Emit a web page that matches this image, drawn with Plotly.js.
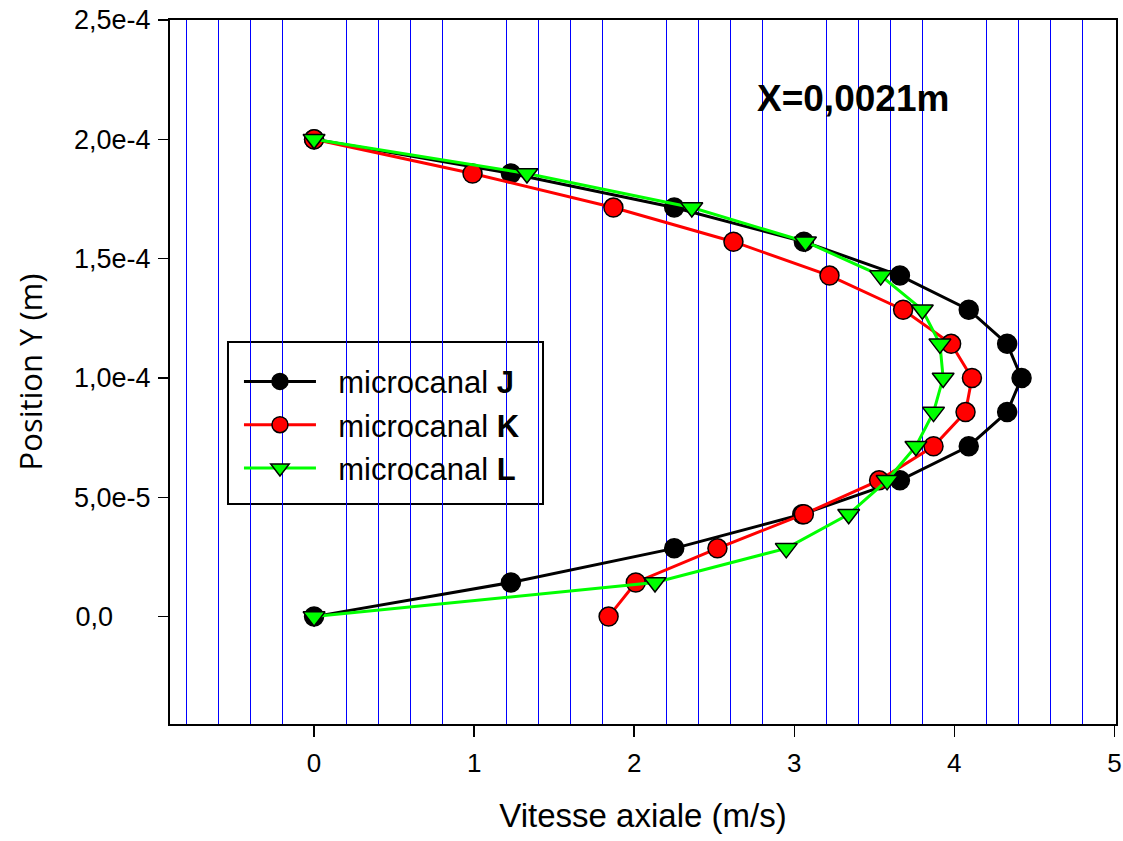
<!DOCTYPE html>
<html>
<head>
<meta charset="utf-8">
<script src="https://cdn.plot.ly/plotly-3.0.1.min.js"></script>
<style>html,body{margin:0;padding:0;background:#fff;}#chart{width:1123px;height:841px;}</style>
</head>
<body>
<div id="chart"></div>
<script>
// Position Y (m) of the measurement points
const positionY = [0, 1.43e-5, 2.86e-5, 4.29e-5, 5.71e-5, 7.14e-5, 8.57e-5, 1.0e-4,
                   1.143e-4, 1.286e-4, 1.429e-4, 1.571e-4, 1.714e-4, 1.857e-4, 2.0e-4];
// Vitesse axiale (m/s)
const vitesseJ = [0, 1.23, 2.25, 3.05, 3.66, 4.09, 4.33, 4.42, 4.33, 4.09, 3.66, 3.06, 2.25, 1.23, 0];
const vitesseK = [1.84, 2.01, 2.52, 3.06, 3.53, 3.87, 4.07, 4.11, 3.98, 3.68, 3.22, 2.62, 1.87, 0.99, 0];
const vitesseL = [0, 2.13, 2.95, 3.34, 3.58, 3.76, 3.87, 3.93, 3.91, 3.80, 3.54, 3.07, 2.36, 1.33, 0];

const seriesNames = ['\u00a0\u00a0microcanal <b>J</b>', '\u00a0\u00a0microcanal <b>K</b>', '\u00a0\u00a0microcanal <b>L</b>'];
const yTickVals = [0, 5e-5, 1e-4, 1.5e-4, 2e-4, 2.5e-4];
const yTickText = ['0,0\u00a0\u00a0\u00a0\u00a0\u00a0', '5,0e-5', '1,0e-4', '1,5e-4', '2,0e-4', '2,5e-4'];
const annotationText = '<b>X=0,0021m</b>';

const mk = (x, name, color, symbol, size) => ({
  x: x, y: positionY, name: name, type: 'scatter', mode: 'lines+markers',
  line: {color: color, width: 3},
  marker: {symbol: symbol, size: size, color: color, line: {color: '#000', width: 1.5}}
});

const data = [
  mk(vitesseJ, seriesNames[0], '#000000', 'circle', 19),
  mk(vitesseK, seriesNames[1], '#ff0000', 'circle', 19),
  mk(vitesseL, seriesNames[2], '#00ff00', 'triangle-down', 19)
];

const layout = {
  width: 1123, height: 841,
  margin: {l: 170, r: 7, t: 20, b: 117},
  paper_bgcolor: '#fff', plot_bgcolor: '#fff',
  font: {family: 'Liberation Sans, Arial, sans-serif', color: '#000'},
  showlegend: true,
  legend: {
    x: 0.0729, y: 0.5245, xanchor: 'left', yanchor: 'top',
    bgcolor: 'rgba(0,0,0,0)', borderwidth: 0,
    font: {size: 31, family: 'Liberation Sans, Arial, sans-serif'},
    itemwidth: 72, tracegroupgap: 0
  },
  shapes: [{
    type: 'rect', xref: 'paper', yref: 'paper', layer: 'between',
    x0: 0.0613, x1: 0.3943, y0: 0.3125, y1: 0.5426,
    line: {color: '#000', width: 2}, fillcolor: '#fff'
  }],
  xaxis: {
    range: [-0.9, 5.01],
    tickmode: 'linear', tick0: 0, dtick: 1,
    ticks: 'outside', ticklen: 11, tickwidth: 1.5, tickcolor: '#000',
    ticklabelstandoff: 4,
    tickfont: {size: 26},
    showline: true, linecolor: '#000', linewidth: 2, mirror: true,
    showgrid: false, zeroline: false,
    minor: {dtick: 0.2, tick0: 0, showgrid: true, gridcolor: '#0000ff', gridwidth: 1, ticks: ''},
    title: {text: 'Vitesse axiale (m/s)', font: {size: 33}, standoff: 27}
  },
  yaxis: {
    range: [-4.5e-5, 2.5e-4],
    tickvals: yTickVals, ticktext: yTickText,
    ticks: 'outside', ticklen: 10, tickwidth: 1.5, tickcolor: '#000',
    ticklabelstandoff: 2,
    tickfont: {size: 27},
    showline: true, linecolor: '#000', linewidth: 2, mirror: true,
    showgrid: false, zeroline: false,
    title: {text: 'Position Y (m)', font: {size: 31, family: 'Open Sans, Noto Sans, sans-serif'}, standoff: 22}
  },
  annotations: [{
    x: 3.37, y: 2.17e-4, xref: 'x', yref: 'y', text: annotationText,
    showarrow: false, font: {size: 37, family: 'Liberation Sans, Arial, sans-serif', color: '#000'},
    xanchor: 'center', yanchor: 'middle'
  }]
};

Plotly.newPlot('chart', data, layout, {displayModeBar: false, staticPlot: true});
</script>
</body>
</html>
